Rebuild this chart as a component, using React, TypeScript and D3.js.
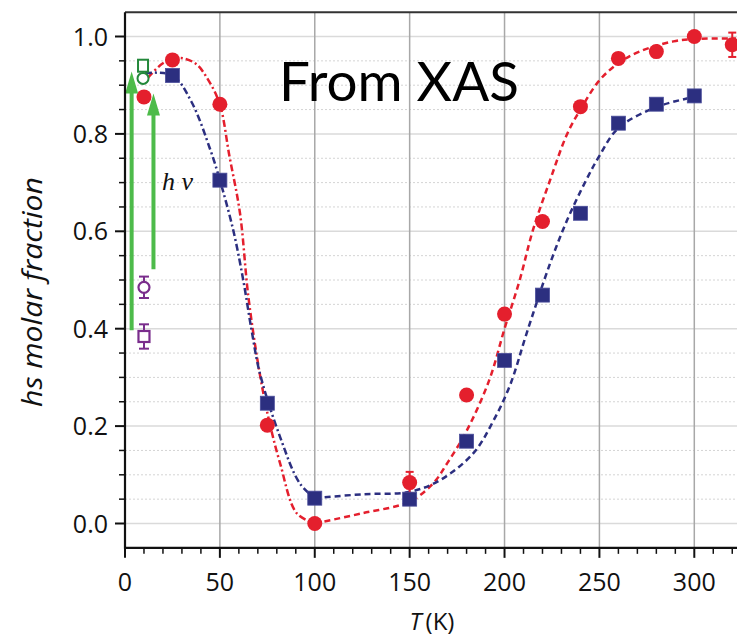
import React from "react";
import * as d3 from "d3";

// ---- data ----
const redT = [10, 25, 50, 75, 100, 150, 180, 200, 220, 240, 260, 280, 300, 320];
const redY = [0.876, 0.952, 0.861, 0.202, 0.0, 0.084, 0.264, 0.43, 0.62, 0.856, 0.955, 0.969, 1.0, 0.983];
const redErr = [0, 0, 0, 0, 0, 0.022, 0, 0, 0, 0, 0, 0, 0, 0.025];

const blueT = [25, 50, 75, 100, 150, 180, 200, 220, 240, 260, 280, 300];
const blueY = [0.92, 0.705, 0.247, 0.052, 0.05, 0.169, 0.335, 0.469, 0.637, 0.822, 0.861, 0.878];

// fit curves (nodes)
const redLowT = [12, 20, 28, 37, 44, 50, 55, 60.6, 65, 71, 76, 81.7, 90.5, 100];
const redLowY = [0.915, 0.945, 0.956, 0.945, 0.91, 0.86, 0.755, 0.637, 0.466, 0.308, 0.21, 0.124, 0.021, 0.0];
const redHighT = [100, 125, 150, 162.5, 170, 180, 192, 200, 208, 215, 224, 233, 240, 250, 260, 271, 289, 300, 322];
const redHighY = [0.0, 0.021, 0.045, 0.083, 0.125, 0.19, 0.295, 0.4, 0.5, 0.603, 0.705, 0.8, 0.85, 0.91, 0.945, 0.969, 0.99, 0.995, 0.996];
const blueLowT = [10.5, 25, 35, 45, 50, 57, 62.3, 66.7, 71.1, 81.7, 92, 100];
const blueLowY = [0.925, 0.92, 0.866, 0.767, 0.705, 0.603, 0.5, 0.397, 0.308, 0.178, 0.083, 0.052];
const blueHighT = [100, 125, 150, 166, 183.5, 194, 203, 211.6, 224, 233, 243, 250, 260, 280, 300];
const blueHighY = [0.052, 0.06, 0.065, 0.089, 0.144, 0.21, 0.285, 0.39, 0.534, 0.623, 0.705, 0.755, 0.812, 0.855, 0.876];

// light-induced points (open markers)
const greenSquare = { t: 9.5, y: 0.94 };
const greenCircle = { t: 9.5, y: 0.914 };
const purpleCircle = { t: 10, y: 0.485, err: 0.022 };
const purpleSquare = { t: 10, y: 0.384, err: 0.025 };
// arrows: [T, from, to]
const arrows = [
  { t: 3.5, from: 0.397, to: 0.928 },
  { t: 15, from: 0.522, to: 0.883 },
];

const xMajor = [0, 50, 100, 150, 200, 250, 300];
const yMajor = [0.0, 0.2, 0.4, 0.6, 0.8, 1.0];

const W = 737;
const H = 639;

const RED = "#e41f2d";
const BLUE = "#2c2f80";
const GREEN_ARROW = "#4dbb4a";
const GREEN = "#23883a";
const PURPLE = "#7a2d8c";

export default function App() {
  const x = d3.scaleLinear().domain([0, 300]).range([125, 694.3]);
  const y = d3.scaleLinear().domain([0, 1]).range([523.5, 36.5]);
  const left = x(0);
  const bottom = y(-0.05);
  const top = y(1.05);
  const right = W;

  const xMinor = d3.range(0, 321, 10).filter((v) => v % 50 !== 0);
  const yMinor = d3.range(0, 21).map((i) => +(i * 0.05).toFixed(2)).filter((v) => Math.round(v * 100) % 20 !== 0);

  const line = d3
    .line<[number, number]>()
    .x((d) => x(d[0]))
    .y((d) => y(d[1]))
    .curve(d3.curveCatmullRom.alpha(0.5));
  const zip = (a: number[], b: number[]) => a.map((v, i) => [v, b[i]] as [number, number]);

  const tickFont = "'Open Sans', sans-serif";
  const dashed = "6 4";
  const dashDot = "7 3 2 3";

  return (
    <svg width={W} height={H} style={{ position: "absolute", left: 0, top: 0, background: "#fff" }}>
      <rect x={0} y={0} width={W} height={H} fill="#fff" />
      {/* horizontal grid */}
      {yMinor.map((v) => (
        <line key={"ym" + v} x1={left} x2={right} y1={y(v)} y2={y(v)} stroke="#d4d4d4" strokeWidth={1} strokeDasharray="2 2" />
      ))}
      {yMajor.map((v) => (
        <line key={"yg" + v} x1={left} x2={right} y1={y(v)} y2={y(v)} stroke="#dadada" strokeWidth={1.5} />
      ))}
      {/* vertical grid */}
      {xMajor.filter((v) => v > 0).map((v) => (
        <line key={"xg" + v} x1={x(v)} x2={x(v)} y1={top} y2={bottom} stroke="#a8a8a8" strokeWidth={1.5} />
      ))}

      {/* fit curves */}
      <path d={line(zip(redLowT, redLowY)) || ""} fill="none" stroke={RED} strokeWidth={2.5} strokeDasharray={dashDot} />
      <path d={line(zip(redHighT, redHighY)) || ""} fill="none" stroke={RED} strokeWidth={2.5} strokeDasharray={dashed} />
      <path d={line(zip(blueLowT, blueLowY)) || ""} fill="none" stroke={BLUE} strokeWidth={2.5} strokeDasharray={dashDot} />
      <path d={line(zip(blueHighT, blueHighY)) || ""} fill="none" stroke={BLUE} strokeWidth={2.5} strokeDasharray={dashed} />

      {/* red error bars + circles */}
      {redT.map((t, i) =>
        redErr[i] > 0 ? (
          <g key={"re" + i} stroke={RED} strokeWidth={2}>
            <line x1={x(t)} x2={x(t)} y1={y(redY[i] - redErr[i])} y2={y(redY[i] + redErr[i])} />
            <line x1={x(t) - 4} x2={x(t) + 4} y1={y(redY[i] - redErr[i])} y2={y(redY[i] - redErr[i])} />
            <line x1={x(t) - 4} x2={x(t) + 4} y1={y(redY[i] + redErr[i])} y2={y(redY[i] + redErr[i])} />
          </g>
        ) : null
      )}
      {redT.map((t, i) => (
        <circle key={"rc" + i} cx={x(t)} cy={y(redY[i])} r={7.5} fill={RED} />
      ))}
      {blueT.map((t, i) => (
        <rect key={"bs" + i} x={x(t) - 7} y={y(blueY[i]) - 7} width={14} height={14} fill={BLUE} stroke="#4a4d9a" strokeWidth={0.8} />
      ))}

      {/* green arrows */}
      {arrows.map((a, i) => {
        const ax = x(a.t);
        const tipY = y(a.to);
        const baseY = tipY + 22;
        return (
          <g key={"ar" + i}>
            <line x1={ax} x2={ax} y1={y(a.from)} y2={baseY - 1} stroke={GREEN_ARROW} strokeWidth={4} />
            <path d={`M${ax},${tipY} L${ax - 6.5},${baseY} L${ax + 6.5},${baseY} Z`} fill={GREEN_ARROW} />
          </g>
        );
      })}

      {/* open markers */}
      <rect x={x(greenSquare.t) - 5} y={y(greenSquare.y) - 6} width={10} height={12} fill="#fff" stroke={GREEN} strokeWidth={2} />
      <circle cx={x(greenCircle.t)} cy={y(greenCircle.y)} r={5.5} fill="#fff" stroke={GREEN} strokeWidth={2} />
      {[purpleCircle, purpleSquare].map((p, i) => (
        <g key={"pe" + i} stroke={PURPLE} strokeWidth={2}>
          <line x1={x(p.t)} x2={x(p.t)} y1={y(p.y - p.err)} y2={y(p.y + p.err)} />
          <line x1={x(p.t) - 5} x2={x(p.t) + 5} y1={y(p.y - p.err)} y2={y(p.y - p.err)} />
          <line x1={x(p.t) - 5} x2={x(p.t) + 5} y1={y(p.y + p.err)} y2={y(p.y + p.err)} />
        </g>
      ))}
      <circle cx={x(purpleCircle.t)} cy={y(purpleCircle.y)} r={5.5} fill="#fff" stroke={PURPLE} strokeWidth={2.2} />
      <rect x={x(purpleSquare.t) - 5.5} y={y(purpleSquare.y) - 5.5} width={11} height={11} fill="#fff" stroke={PURPLE} strokeWidth={2.2} />

      {/* h nu label */}
      <text x={162} y={190} fontFamily="'Liberation Serif', serif" fontStyle="italic" fontSize={26} fill="#111">
        h ν
      </text>

      {/* From XAS */}
      <text x={279} y={101} fontFamily="Lato, sans-serif" fontSize={54} fill="#000" textLength={240} lengthAdjust="spacingAndGlyphs">
        From XAS
      </text>

      {/* axes */}
      <line x1={left} x2={right} y1={top} y2={top} stroke="#333" strokeWidth={2} />
      <line x1={left} x2={left} y1={top} y2={bottom + 1} stroke="#111" strokeWidth={2.2} />
      <line x1={left - 1} x2={right} y1={bottom} y2={bottom} stroke="#111" strokeWidth={2.2} />

      {yMajor.map((v) => (
        <g key={"yt" + v}>
          <line x1={left - 10} x2={left} y1={y(v)} y2={y(v)} stroke="#111" strokeWidth={2} />
          <text x={left - 17} y={y(v) + 9} textAnchor="end" fontFamily={tickFont} fontSize={25} fill="#111">
            {d3.format(".1f")(v)}
          </text>
        </g>
      ))}
      {yMinor.map((v) => (
        <line key={"ymt" + v} x1={left - 6} x2={left} y1={y(v)} y2={y(v)} stroke="#111" strokeWidth={1.5} />
      ))}
      {xMajor.map((v) => (
        <g key={"xt" + v}>
          <line x1={x(v)} x2={x(v)} y1={bottom} y2={bottom + 10} stroke="#111" strokeWidth={2} />
          <text x={x(v)} y={591} textAnchor="middle" fontFamily={tickFont} fontSize={25} fill="#111">
            {v}
          </text>
        </g>
      ))}
      {xMinor.map((v) => (
        <line key={"xmt" + v} x1={x(v)} x2={x(v)} y1={bottom} y2={bottom + 6} stroke="#111" strokeWidth={1.5} />
      ))}

      {/* axis titles */}
      <text x={432} y={630} textAnchor="middle" fontFamily={tickFont} fontSize={24} fill="#111">
        <tspan fontStyle="italic">T</tspan>
        <tspan dx={4}>(K)</tspan>
      </text>
      <text
        transform={`translate(42, 292) rotate(-90)`}
        textAnchor="middle"
        fontFamily={tickFont}
        fontStyle="italic"
        fontSize={27}
        fill="#111"
        textLength={230}
        lengthAdjust="spacingAndGlyphs"
      >
        hs molar fraction
      </text>
    </svg>
  );
}
